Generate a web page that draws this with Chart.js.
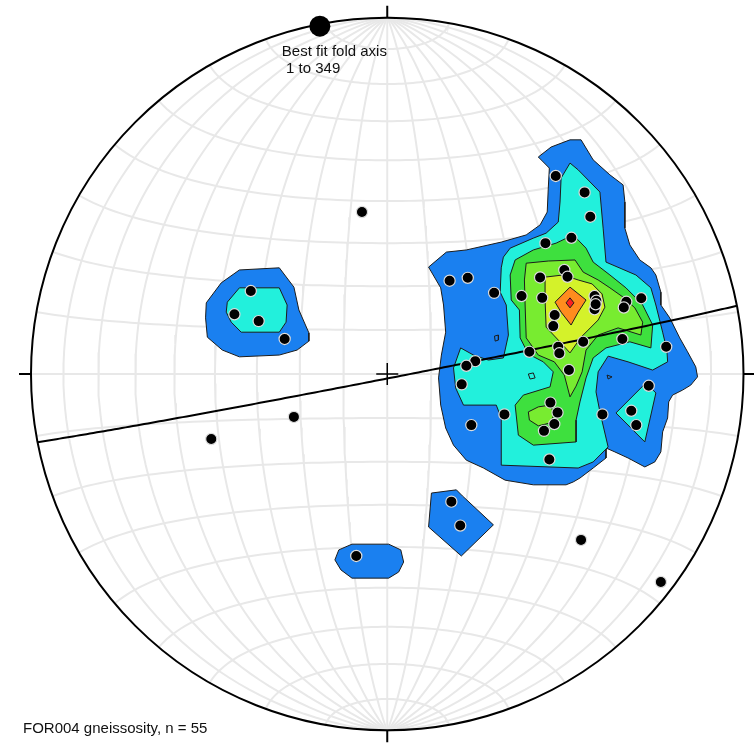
<!DOCTYPE html>
<html>
<head>
<meta charset="utf-8">
<title>FOR004 gneissosity</title>
<script src="https://cdn.jsdelivr.net/npm/chart.js@4"></script>
<style>
  html, body { margin: 0; padding: 0; background: #fff; }
  canvas { display: block; }
</style>
</head>
<body>
<canvas id="net" width="754" height="744" style="width:754px;height:744px"></canvas>
<script>
// Poles to gneissosity in equal-area net coordinates (primitive radius = 100, x east, y north)
const poleX = [47.3, 55.4, 57.0, 51.7, 44.4, 17.5, 22.6, 30.0, 37.7, 42.9, 49.7, 50.6, 43.5, 58.2,
  58.7, 58.2, 67.1, 66.4, 71.3, 47.0, 46.6, 55.0, 66.0, 78.3, 39.9, 48.0, 48.3, 51.0, 24.7, 22.2,
  20.9, 32.9, 23.6, 45.8, 47.8, 46.9, 44.0, 45.5, 73.4, 68.5, 69.9, 60.4, -7.1, -38.3, -42.9, -36.1,
  -28.8, -26.2, -49.4, 18.0, 20.5, -8.7, 54.4, 76.8, 58.5];
const poleY = [55.4, 50.8, 44.0, 38.1, 36.6, 26.1, 26.9, 22.7, 21.8, 27.0, 29.1, 27.2, 21.3, 21.8,
  20.5, 18.1, 20.2, 18.6, 21.2, 16.5, 13.4, 9.0, 9.8, 7.6, 6.2, 7.6, 5.8, 1.1, 3.6, 2.3,
  -2.9, -11.3, -14.3, -8.0, -10.8, -14.0, -15.9, -23.9, -3.3, -10.3, -14.3, -11.3, 45.3, 23.2, 16.7, 14.8,
  9.8, -12.0, -18.2, -35.7, -42.4, -50.9, -46.4, -58.2, 19.5];

// best fit fold axis (trend, plunge)
const foldTrend = 349;
const foldPlunge = 1;

// density contour fill colours, lowest level first
const levelColors = ['#1a80f0', '#22f0dc', '#3ee03e', '#78ec30', '#d4f22a', '#ff8c1e', '#ff2020'];

// contour polygons, net coordinates
const blueMain = [[42.4,60.7],[46.0,63.5],[51.3,65.5],[54.4,65.5],[57.8,59.9],[62.5,55.7],[66.2,52.9],
  [66.7,48.1],[66.7,40.8],[68.1,36.1],[70.9,31.9],[74.0,29.7],[75.4,27.7],[76.8,22.9],[76.8,19.3],
  [79.3,15.7],[82.1,10.1],[84.3,6.2],[86.6,2.0],[87.1,-0.8],[85.2,-3.1],[82.9,-4.5],[80.1,-5.9],
  [79.0,-7.8],[78.7,-12.3],[77.3,-16.2],[76.8,-21.8],[75.1,-24.6],[72.3,-26.0],[67.6,-23.5],
  [63.9,-21.8],[61.4,-20.7],[61.4,-23.5],[57.8,-26.3],[54.1,-29.1],[52.2,-30.2],[50.2,-31.0],
  [41.0,-31.0],[33.1,-29.7],[27.0,-26.3],[22.2,-24.1],[18.6,-19.9],[16.4,-15.1],[15.0,-8.7],
  [14.4,-1.1],[15.2,5.3],[16.4,11.7],[15.8,19.3],[15.0,24.1],[11.6,29.9],[16.6,34.1],[22.2,34.7],
  [32.0,36.9],[39.0,38.9],[42.9,41.7],[44.9,45.3],[45.2,52.0],[45.5,57.6]];
const blueLeft = [[-50.8,19.9],[-46.6,25.5],[-41.5,29.1],[-30.3,29.7],[-26.2,24.3],[-24.8,17.9],
  [-22.0,11.5],[-22.0,9.2],[-25.3,6.7],[-30.3,5.3],[-41.5,4.8],[-46.3,6.7],[-50.5,10.3],[-51.0,15.7]];
const bluePentagon = [[12.4,-33.3],[19.4,-32.4],[21.1,-34.1],[29.8,-42.2],[20.8,-50.9],[11.6,-42.8]];
const blueOval = [[-13.6,-49.2],[-9.9,-47.6],[0.4,-47.6],[3.8,-49.2],[4.6,-52.6],[3.2,-55.4],
  [0.4,-57.1],[-9.9,-57.1],[-13.0,-54.8],[-14.7,-52.0]];
const blueSpeckA = [[30.1,10.6],[31.2,10.9],[31.2,9.5],[30.3,9.2]];
const blueSpeckB = [[61.7,-0.3],[63.1,-0.8],[62.0,-1.4]];

const cyanMain = [[51.3,59.0],[53.6,57.1],[59.7,50.9],[60.6,40.8],[61.4,31.3],[69.8,27.7],[74.0,24.1],
  [75.4,19.3],[77.3,11.7],[78.5,6.7],[78.7,3.4],[74.5,1.1],[67.6,3.4],[62.0,5.0],[59.2,0.6],
  [58.6,-5.0],[59.7,-10.6],[62.0,-20.4],[57.8,-24.6],[53.6,-26.3],[32.0,-25.5],[32.0,-17.9],
  [32.0,-12.3],[30.6,-8.7],[21.4,-8.7],[19.2,-3.9],[18.6,1.7],[20.6,7.3],[24.2,5.3],[28.4,3.9],
  [32.6,4.5],[34.0,10.9],[33.4,19.3],[31.7,22.9],[32.0,29.7],[32.6,32.7],[34.5,35.2],[41.0,38.0],
  [44.6,39.4],[48.0,42.5],[48.5,48.1],[48.8,54.8]];
const cyanLeft = [[-44.9,20.1],[-41.5,24.1],[-30.3,24.1],[-28.1,19.3],[-28.4,14.5],[-30.3,11.7],
  [-41.0,11.7],[-43.8,14.5],[-45.2,17.3]];
const cyanIsland = [[64.2,-10.9],[72.6,-2.5],[75.4,-5.3],[72.3,-19.0]];
const cyanSpeck = [[39.6,0.0],[41.0,0.3],[41.5,-1.1],[40.1,-1.4]];

const level3Main = [[52.2,38.9],[55.8,35.2],[57.8,31.3],[62.5,27.7],[67.0,24.1],[69.8,21.3],[71.7,19.3],
  [74.5,13.7],[74.0,7.3],[68.1,9.0],[61.4,7.3],[57.8,4.5],[55.8,-1.1],[54.1,-7.8],[53.0,-12.9],
  [53.0,-19.0],[41.0,-19.9],[36.8,-17.1],[35.9,-8.7],[38.2,-5.9],[45.7,-3.6],[46.6,0.6],[43.8,3.4],
  [39.6,5.6],[37.3,10.1],[37.1,17.9],[34.8,20.7],[34.5,27.7],[35.9,31.9],[41.0,34.7],[47.4,36.6]];
const level4Main = [[39.0,31.0],[45.2,31.6],[52.7,31.9],[55.0,28.5],[59.2,26.3],[62.5,24.1],[66.2,21.5],
  [69.5,18.5],[71.7,14.5],[71.2,10.9],[64.8,12.9],[59.2,10.9],[55.8,6.7],[54.7,0.6],[53.0,-3.4],
  [51.3,-6.4],[49.7,-0.3],[46.9,3.4],[42.4,5.3],[39.0,10.1],[38.7,19.3],[38.5,26.3]];
const level4Island = [[39.6,-10.6],[42.4,-9.2],[45.7,-8.7],[46.9,-11.2],[45.7,-13.7],[42.4,-14.5],
  [39.9,-12.9]];
const level5 = [[44.3,27.1],[49.4,27.7],[53.6,26.3],[57.5,25.2],[60.3,22.4],[61.1,18.7],[59.2,15.1],
  [54.4,10.3],[51.3,5.9],[48.0,9.5],[44.6,13.1],[44.3,20.7]];
const level6 = [[47.1,20.1],[51.3,24.3],[55.8,20.7],[53.6,17.3],[51.6,13.7],[48.8,17.3]];
const level7 = [[51.3,21.3],[52.4,19.9],[51.3,18.5],[50.2,19.9]];

// outer levels first so inner levels paint over them
const contourShapes = [
  [blueMain, 0], [blueLeft, 0], [bluePentagon, 0], [blueOval, 0], [blueSpeckA, 0], [blueSpeckB, 0],
  [cyanMain, 1], [cyanLeft, 1], [cyanIsland, 1], [cyanSpeck, 1],
  [level3Main, 2], [level4Main, 3], [level4Island, 3], [level5, 4], [level6, 5], [level7, 6]
];

const RAD = Math.PI / 180;

// unit vector (north, east, down) -> lower hemisphere equal-area net coordinates
function project(n, e, d) {
  const h = Math.hypot(n, e);
  const r = Math.sqrt(Math.max(0, 1 - d)) * 100;
  if (h < 1e-9) return { x: 0, y: 0 };
  return { x: r * e / h, y: r * n / h };
}

function lineVec(trend, plunge) {
  const t = trend * RAD, p = plunge * RAD;
  return [Math.cos(p) * Math.cos(t), Math.cos(p) * Math.sin(t), Math.sin(p)];
}

// Schmidt net: N-S great circles and small circles about the N-S axis, 10 degree spacing
const gridLines = [];
for (let dip = 10; dip <= 90; dip += 10) {
  for (const side of (dip === 90 ? [1] : [1, -1])) {
    const pts = [];
    for (let t = 0; t <= 180; t += 2) {
      const c = Math.cos(t * RAD), s = Math.sin(t * RAD);
      pts.push(project(c, side * s * Math.cos(dip * RAD), s * Math.sin(dip * RAD)));
    }
    gridLines.push(pts);
  }
}
for (let a = 10; a <= 170; a += 10) {
  const pts = [];
  for (let f = 0; f <= 180; f += 2) {
    pts.push(project(Math.cos(a * RAD), Math.sin(a * RAD) * Math.cos(f * RAD), Math.sin(a * RAD) * Math.sin(f * RAD)));
  }
  gridLines.push(pts);
}

// girdle: the great circle normal to the fold axis
const fv = lineVec(foldTrend, foldPlunge);
const uv = lineVec(foldTrend + 90, 0);
let wv = [fv[1] * uv[2] - fv[2] * uv[1], fv[2] * uv[0] - fv[0] * uv[2], fv[0] * uv[1] - fv[1] * uv[0]];
if (wv[2] < 0) wv = wv.map(v => -v);
const girdle = [];
for (let t = 0; t <= 180; t += 1) {
  const c = Math.cos(t * RAD), s = Math.sin(t * RAD);
  girdle.push(project(c * uv[0] + s * wv[0], c * uv[1] + s * wv[1], c * uv[2] + s * wv[2]));
}
const foldPoint = project(fv[0], fv[1], fv[2]);

const datasets = [];
gridLines.forEach(pts => datasets.push({
  type: 'line', data: pts, borderColor: '#e8e8e8', borderWidth: 2,
  pointRadius: 0, fill: false, order: 300
}));
contourShapes.forEach(([poly, level], i) => {
  const pts = poly.map(([x, y]) => ({ x, y }));
  pts.push({ x: poly[0][0], y: poly[0][1] });
  datasets.push({
    type: 'line', data: pts, borderColor: '#1c1c1c', borderWidth: 1,
    backgroundColor: levelColors[level], fill: 'shape',
    pointRadius: 0, order: 200 - i
  });
});
datasets.push({
  type: 'line', data: girdle, borderColor: '#000', borderWidth: 2,
  pointRadius: 0, fill: false, order: 50
});
datasets.push({
  type: 'scatter', data: poleX.map((x, i) => ({ x, y: poleY[i] })),
  backgroundColor: '#000', borderColor: '#dcdcdc', borderWidth: 1.2,
  pointRadius: 5.6, order: 20
});
datasets.push({
  type: 'scatter', data: [foldPoint], backgroundColor: '#000', borderColor: '#000',
  borderWidth: 0, pointRadius: 10.5, clip: false, order: 10
});

// primitive circle, compass ticks, centre cross and labels
const netFrame = {
  id: 'netFrame',
  afterDatasetsDraw(chart) {
    const { ctx, scales: { x, y } } = chart;
    const cx = x.getPixelForValue(0), cy = y.getPixelForValue(0);
    const R = x.getPixelForValue(100) - cx;
    const tick = 12, arm = 11;
    ctx.save();
    ctx.strokeStyle = '#000';
    ctx.lineWidth = 2;
    ctx.beginPath();
    ctx.arc(cx, cy, R, 0, 2 * Math.PI);
    ctx.stroke();
    ctx.beginPath();
    ctx.moveTo(cx, cy - R); ctx.lineTo(cx, cy - R - tick);
    ctx.moveTo(cx, cy + R); ctx.lineTo(cx, cy + R + tick);
    ctx.moveTo(cx - R, cy); ctx.lineTo(cx - R - tick, cy);
    ctx.moveTo(cx + R, cy); ctx.lineTo(cx + R + tick, cy);
    ctx.stroke();
    ctx.lineWidth = 1.5;
    ctx.beginPath();
    ctx.moveTo(cx - arm, cy); ctx.lineTo(cx + arm, cy);
    ctx.moveTo(cx, cy - arm); ctx.lineTo(cx, cy + arm);
    ctx.stroke();
    ctx.restore();
  },
  afterDraw(chart) {
    const { ctx, scales: { x, y } } = chart;
    const fx = x.getPixelForValue(foldPoint.x), fy = y.getPixelForValue(foldPoint.y);
    ctx.save();
    ctx.fillStyle = '#111';
    ctx.font = '15px "Liberation Sans", Arial, sans-serif';
    ctx.textAlign = 'left';
    ctx.textBaseline = 'alphabetic';
    ctx.fillText('Best fit fold axis', fx - 38, fy + 29.5);
    ctx.fillText(' 1 to ' + foldTrend, fx - 38, fy + 47);
    ctx.fillText('FOR004 gneissosity, n = ' + poleX.length, 23, 733);
    ctx.restore();
  }
};

new Chart(document.getElementById('net'), {
  type: 'scatter',
  data: { datasets },
  options: {
    responsive: false,
    animation: false,
    devicePixelRatio: 1,
    events: [],
    layout: { padding: { left: 31, right: 8, top: 16.5, bottom: 12.5 } },
    scales: {
      x: { type: 'linear', min: -100, max: 100, display: false },
      y: { type: 'linear', min: -100, max: 100, display: false }
    },
    elements: { line: { tension: 0 } },
    plugins: { legend: { display: false }, tooltip: { enabled: false } }
  },
  plugins: [netFrame]
});
</script>
</body>
</html>
